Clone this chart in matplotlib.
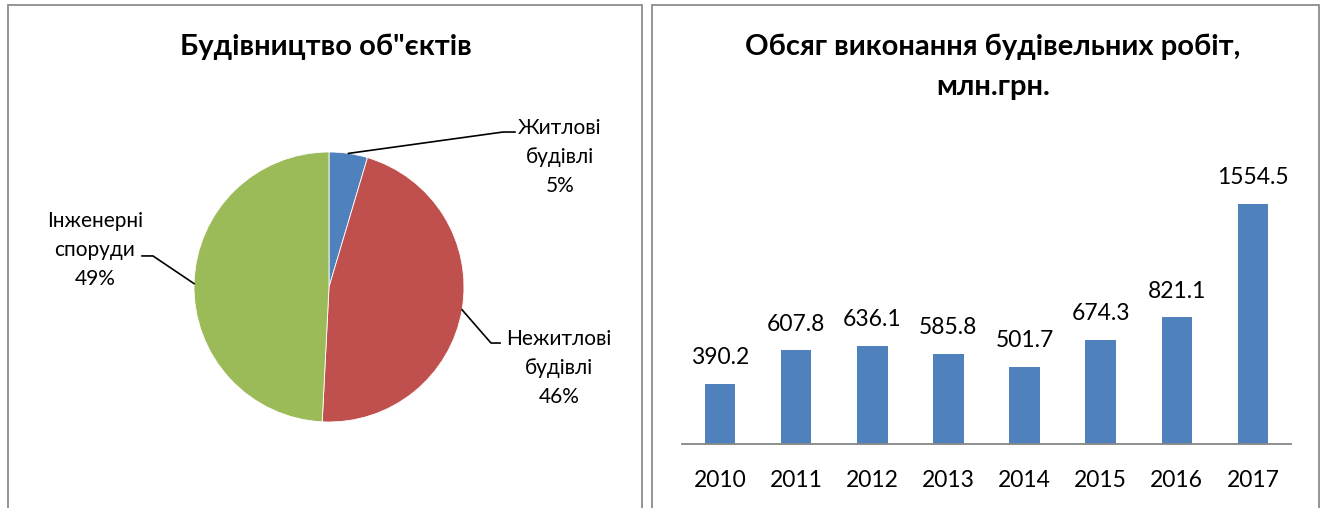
import numpy as np
import matplotlib
matplotlib.use("Agg")
import matplotlib.pyplot as plt
from matplotlib.patches import Rectangle

plt.rcParams['font.family'] = ['Lato', 'DejaVu Sans']

# pie data
pie_labels = ["Житлові\nбудівлі", "Нежитлові\nбудівлі", "Інженерні\nспоруди"]
pie_values = [4.6, 46.2, 49.2]
pie_colors = ["#4F81BD", "#C0504D", "#9BBB59"]

# bar data
years = ["2010", "2011", "2012", "2013", "2014", "2015", "2016", "2017"]
volumes = [390.2, 607.8, 636.1, 585.8, 501.7, 674.3, 821.1, 1554.5]
bar_color = "#4F81BD"

W, H = 1325, 508
fig = plt.figure(figsize=(W / 100, H / 100), dpi=100)


def box(x0, y0, x1, y1):
    # pixel box (top-left origin) -> figure fraction
    return [x0 / W, 1 - y1 / H, (x1 - x0) / W, (y1 - y0) / H]


# panel frames
for x0, x1 in [(8, 642), (652, 1319)]:
    fig.patches.append(Rectangle((x0 / W, -0.05), (x1 - x0) / W, 1.05 - 5 / H,
                                 transform=fig.transFigure, fill=False,
                                 edgecolor="#8c8c8c", linewidth=1.3))

# ---- pie ----
ax1 = fig.add_axes(box(194, 152, 464, 422))
wedges, _ = ax1.pie(pie_values, colors=pie_colors, startangle=90, counterclock=False,
                    wedgeprops=dict(edgecolor="white", linewidth=0.6))
ax1.set_xlim(-1, 1)
ax1.set_ylim(-1, 1)
ax1.set_aspect("equal")

# label text centre, leader elbow, leader end (in pie radius units)
label_pos = [((1.711, 0.963), (1.289, 1.148), (1.378, 1.148)),
             ((1.704, -0.60), (1.20, -0.415), (1.267, -0.415)),
             ((-1.733, 0.274), (-1.304, 0.23), (-1.385, 0.23))]
for w, name, val, (txt, elbow, end) in zip(wedges, pie_labels, pie_values, label_pos):
    mid = np.deg2rad((w.theta1 + w.theta2) / 2)
    start = (np.cos(mid), np.sin(mid))
    ax1.plot([start[0], elbow[0], end[0]], [start[1], elbow[1], end[1]],
             color="black", lw=1.2, clip_on=False)
    ax1.text(txt[0], txt[1], "{}\n{}%".format(name, int(round(val))),
             ha="center", va="center", fontsize=15, linespacing=1.55)

fig.text(326 / W, 1 - 47 / H, "Будівництво об\"єктів", ha="center", va="center",
         fontsize=21, fontweight="bold")

# ---- bars ----
ax2 = fig.add_axes(box(682, 166, 1291, 444))
x = np.arange(len(years))
ax2.bar(x, volumes, width=0.4, color=bar_color)
ax2.set_xlim(-0.5, len(years) - 0.5)
ax2.set_ylim(0, 1800)
for xi, v in zip(x, volumes):
    ax2.annotate("{:.1f}".format(v), (xi, v), xytext=(0, 26), textcoords="offset pixels",
                 ha="center", va="center", fontsize=16.5)
ax2.set_xticks(x)
ax2.set_xticklabels(years, fontsize=16.5)
ax2.tick_params(axis="x", length=0, pad=19)
ax2.set_yticks([])
for s in ["top", "left", "right"]:
    ax2.spines[s].set_visible(False)
ax2.spines["bottom"].set_color("#868686")
ax2.spines["bottom"].set_linewidth(1.3)

fig.text(993 / W, 1 - 47 / H, "Обсяг виконання будівельних робіт,", ha="center",
         va="center", fontsize=21, fontweight="bold")
fig.text(993 / W, 1 - 87 / H, "млн.грн.", ha="center", va="center",
         fontsize=21, fontweight="bold")

fig.savefig("out.png", dpi=100)
